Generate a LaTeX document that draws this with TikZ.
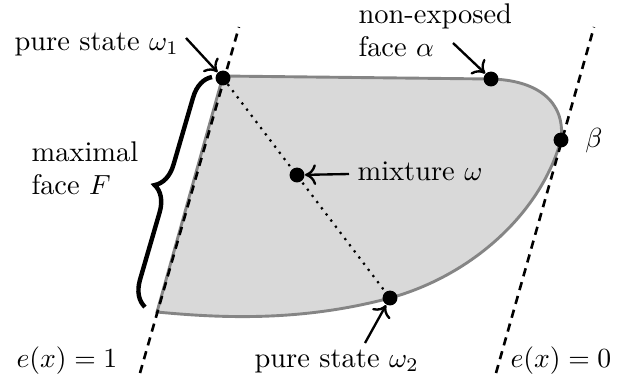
\documentclass[tikz,border=0pt]{standalone}
\usetikzlibrary{decorations.pathreplacing,arrows.meta}
\begin{document}
\begin{tikzpicture}[x=0.362pt,y=-0.362pt,
  dot/.style={circle,fill=black,inner sep=0pt,minimum size=5.4pt},
  lbl/.style={inner sep=0pt,font=\fontsize{10.3}{11.9}\selectfont},
  ptr/.style={-{To[length=4pt,width=7.5pt]},line width=0.85pt},
  support/.style={dash pattern=on 3pt off 2.2pt,line width=0.95pt},
  edge/.style={draw=black!48,line width=1.05pt},
]
\useasboundingbox (0,0) rectangle (622,384);
% convex set
\path[fill=black!15,edge] (157,312) -- (223,76) -- (491,79)
  .. controls (535,80) and (566,100) .. (561,140)
  .. controls (540,215) and (470,276) .. (390,298)
  .. controls (300,322) and (220,318) .. (157,312) -- cycle;
% supporting hyperplanes
\coordinate (L1) at (140,373); \coordinate (L2) at (239,27);
\coordinate (R1) at (496,373); \coordinate (R2) at (594,27);
\draw[support] (L1) -- (L2);
\draw[support] (R1) -- (R2);
% points
\node[dot] (w1) at (223,78) {};
\node[dot] (al) at (491,79) {};
\node[dot] (be) at (561,140) {};
\node[dot] (w2) at (390,298) {};
\node[dot] (w) at (297,175) {};
\draw[dotted,line width=0.8pt] (w1.center) -- (w2.center);
% brace
\coordinate (B1) at (145,307); \coordinate (B2) at (212,77);
\draw[decorate,decoration={brace,amplitude=9pt},line width=1.6pt] (B1) -- (B2);
% labels
\node[lbl,anchor=base west] (tw1) at (14,50) {pure state $\omega_1$};
\node[lbl,anchor=north west,align=left] (tal) at (358,3) {non-exposed\\face $\alpha$};
\node[lbl] (tbe) at (594,141) {$\beta$};
\node[lbl,anchor=base west] (tw) at (357,180) {mixture $\omega$};
\node[lbl,anchor=north west,align=left] (tF) at (31,141) {maximal\\face $F$};
\node[lbl,anchor=base west] (te1) at (16,367) {$e(x)=1$};
\node[lbl,anchor=base west] (tw2) at (254,367) {pure state $\omega_2$};
\node[lbl,anchor=base west] (te0) at (510,367) {$e(x)=0$};
% pointers
\coordinate (a1) at (186,38);
\coordinate (a2) at (453,43);
\coordinate (a3) at (349,174);
\coordinate (a4) at (365,343);
\draw[ptr] (a1) -- (w1);
\draw[ptr] (a2) -- (al);
\draw[ptr] (a3) -- (w);
\draw[ptr] (a4) -- (w2);
\end{tikzpicture}
\end{document}
